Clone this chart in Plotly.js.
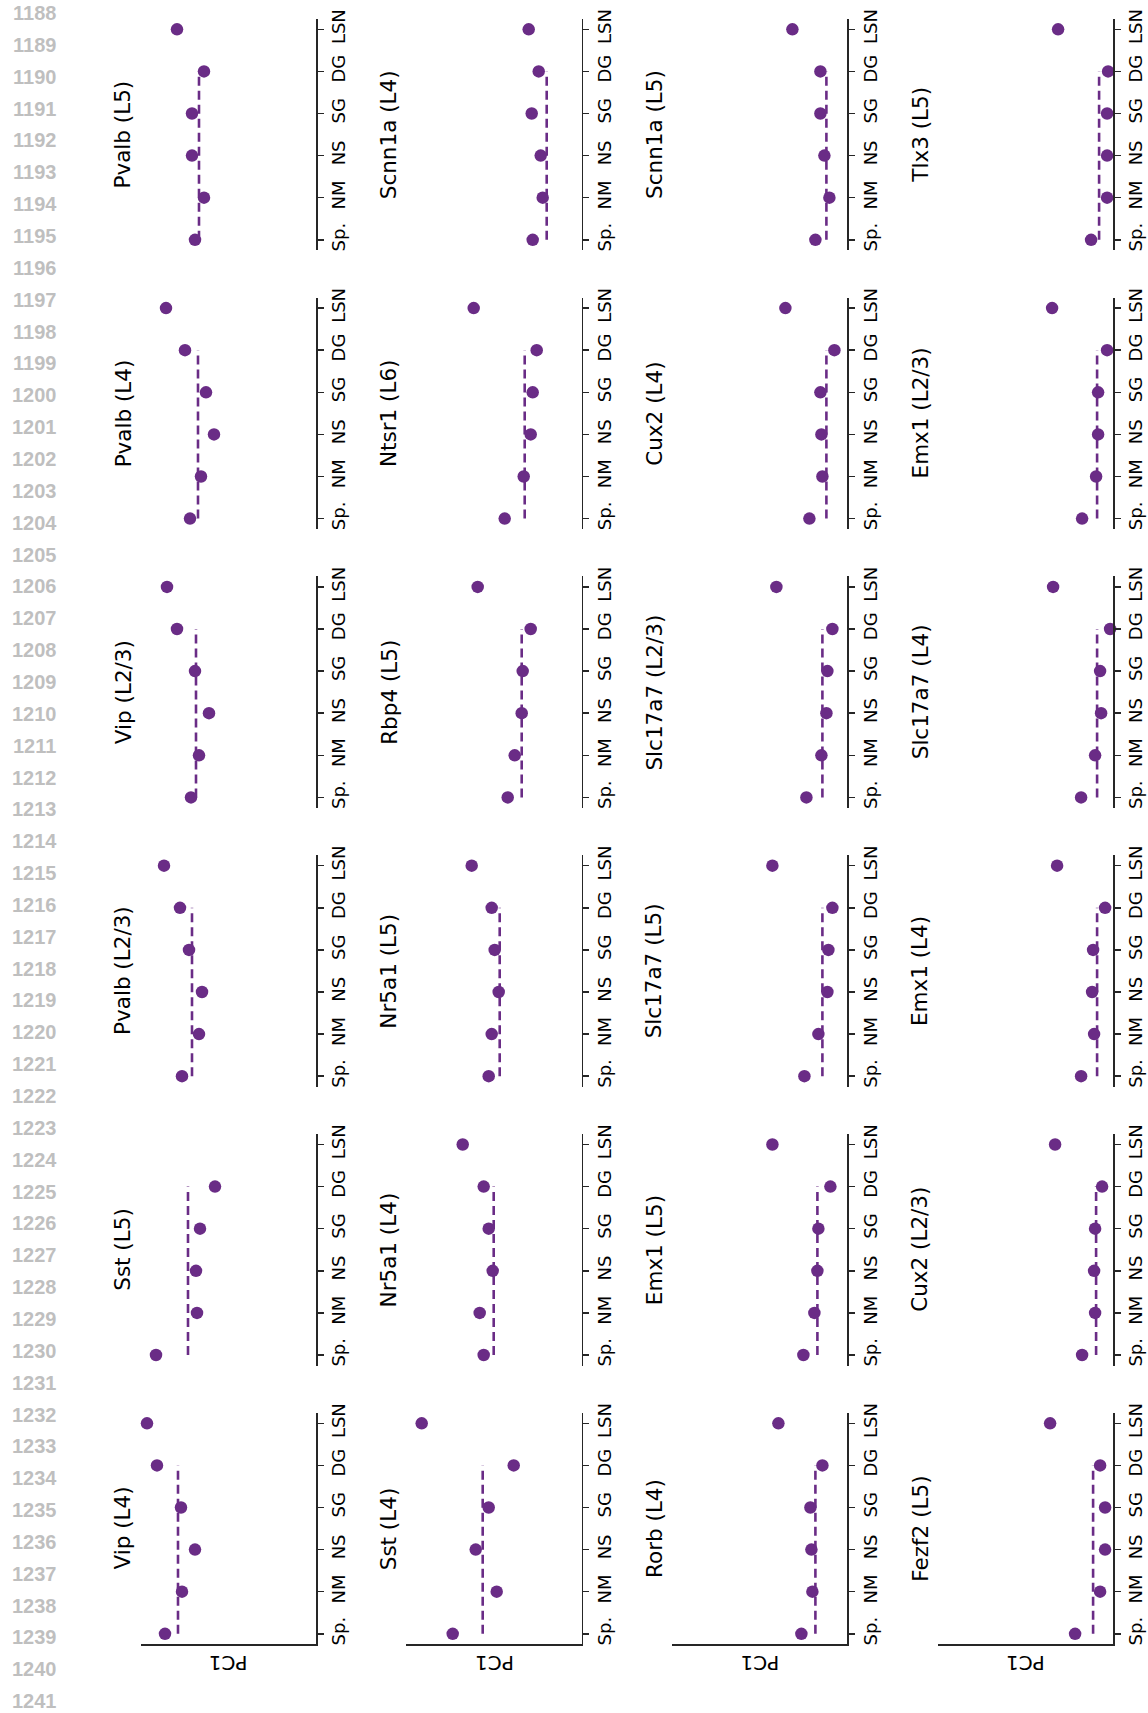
<!DOCTYPE html>
<html><head><meta charset="utf-8">
<script src="https://cdn.plot.ly/plotly-3.0.1.min.js"></script>
<style>html,body{margin:0;padding:0;background:#fff}</style>
</head><body><div id="chart" style="width:1148px;height:1713px"></div>
<script>
// Categories along each panel's axis (bottom to top)
const categories = ['Sp.', 'NM', 'NS', 'SG', 'DG', 'LSN'];

// Panel titles, row by row (top to bottom), left to right
const panelTitles = [
  'Pvalb (L5)', 'Scnn1a (L4)', 'Scnn1a (L5)', 'Tlx3 (L5)',
  'Pvalb (L4)', 'Ntsr1 (L6)', 'Cux2 (L4)', 'Emx1 (L2/3)',
  'Vip (L2/3)', 'Rbp4 (L5)', 'Slc17a7 (L2/3)', 'Slc17a7 (L4)',
  'Pvalb (L2/3)', 'Nr5a1 (L5)', 'Slc17a7 (L5)', 'Emx1 (L4)',
  'Sst (L5)', 'Nr5a1 (L4)', 'Emx1 (L5)', 'Cux2 (L2/3)',
  'Vip (L4)', 'Sst (L4)', 'Rorb (L4)', 'Fezf2 (L5)'
];

// PC1 value per category, one entry per panel (same order as panelTitles)
const pcSp  = [12.1, 4.9, 3.2, 2.2, 12.6, 7.7, 3.8, 3.1, 12.5, 7.4, 4.1, 3.2, 13.4, 9.3, 4.3, 3.2, 16.0, 9.8, 4.4, 3.1, 15.1, 12.9, 4.6, 3.8];
const pcNM  = [11.2, 3.9, 1.8, 0.6, 11.5, 5.8, 2.5, 1.7, 11.7, 6.7, 2.6, 1.8, 11.7, 9.0, 2.9, 1.9, 11.9, 10.2, 3.3, 1.8, 13.4, 8.5, 3.5, 1.3];
const pcNS  = [12.4, 4.1, 2.3, 0.6, 10.2, 5.1, 2.6, 1.5, 10.7, 6.0, 2.1, 1.2, 11.4, 8.3, 2.0, 2.1, 12.0, 8.9, 3.0, 1.9, 12.1, 10.6, 3.6, 0.8];
const pcSG  = [12.4, 5.0, 2.7, 0.6, 11.0, 4.9, 2.7, 1.5, 12.1, 5.9, 2.0, 1.3, 12.7, 8.7, 1.9, 2.0, 11.6, 9.3, 2.9, 1.8, 13.5, 9.3, 3.7, 0.8];
const pcDG  = [11.2, 4.3, 2.7, 0.5, 13.1, 4.5, 1.3, 0.6, 13.9, 5.1, 1.5, 0.3, 13.6, 9.0, 1.5, 0.8, 10.1, 9.8, 1.7, 1.1, 15.9, 6.8, 2.5, 1.3];
const pcLSN = [13.9, 5.3, 5.5, 5.5, 15.0, 10.8, 6.2, 6.1, 14.9, 10.4, 7.1, 6.0, 15.2, 11.0, 7.5, 5.6, null, 11.9, 7.5, 5.8, 16.9, 16.0, 6.9, 6.3];

// Dashed reference level (drawn from Sp. to DG)
const baseline = [11.7, 3.5, 2.1, 1.4, 11.8, 5.7, 2.1, 1.6, 12.0, 6.0, 2.5, 1.6, 12.4, 8.2, 2.5, 1.6, 12.8, 8.8, 3.0, 1.7, 13.8, 9.9, 3.2, 2.0];

// Manuscript line numbers in the left margin
const lineNumbers = [1188,1189,1190,1191,1192,1193,1194,1195,1196,1197,1198,1199,1200,1201,1202,1203,1204,1205,1206,1207,1208,1209,1210,1211,1212,1213,1214,1215,1216,1217,1218,1219,1220,1221,1222,1223,1224,1225,1226,1227,1228,1229,1230,1231,1232,1233,1234,1235,1236,1237,1238,1239,1240,1241];

const W = 1148, H = 1713;
const purple = '#6a2c86';
const axisColor = '#262626';
const FONT = 'DejaVu Sans, sans-serif';
const nCols = 4, nRows = 6;
const colAxisX = c => 316 + c * 265.7;
const rowTop = r => 29.3 + r * 278.8;   // LSN tick position
const catStep = 42.1;
const plotW = 175.5;
const px = x => x / W;
const py = y => 1 - y / H;

const data = [];
const layout = {
  width: W, height: H,
  margin: {l: 0, r: 0, t: 0, b: 0},
  paper_bgcolor: '#fff', plot_bgcolor: 'rgba(0,0,0,0)',
  showlegend: false,
  annotations: []
};

panelTitles.forEach((title, i) => {
  const r = Math.floor(i / nCols), c = i % nCols;
  const k = i + 1;
  const xa = k === 1 ? 'xaxis' : 'xaxis' + k;
  const ya = k === 1 ? 'yaxis' : 'yaxis' + k;
  const xr = k === 1 ? 'x' : 'x' + k;
  const yr = k === 1 ? 'y' : 'y' + k;
  const ax = colAxisX(c);
  const top = rowTop(r) - 0.25 * catStep;
  const bot = rowTop(r) + 5.25 * catStep;

  layout[xa] = {
    domain: [px(ax - plotW), px(ax)],
    anchor: yr,
    range: [17.55, 0],
    showgrid: false, zeroline: false,
    showticklabels: false, ticks: '',
    showline: r === nRows - 1,
    linecolor: axisColor, linewidth: 1.5,
    fixedrange: true
  };
  layout[ya] = {
    domain: [py(bot), py(top)],
    anchor: xr,
    side: 'right',
    type: 'category',
    categoryorder: 'array',
    categoryarray: categories,
    range: [-0.25, 5.25],
    showgrid: false, zeroline: false,
    showline: true, linecolor: axisColor, linewidth: 1.5,
    ticks: 'outside', ticklen: 6, tickwidth: 1.5, tickcolor: axisColor,
    tickangle: -90,
    ticklabelstandoff: 0,
    tickfont: {family: FONT, size: 18, color: '#000'},
    fixedrange: true
  };

  data.push({
    type: 'scatter', mode: 'lines',
    x: [baseline[i], baseline[i]], y: [categories[0], categories[4]],
    xaxis: xr, yaxis: yr,
    line: {color: purple, width: 2.6, dash: '9px,5px'},
    hoverinfo: 'skip'
  });
  data.push({
    type: 'scatter', mode: 'markers',
    x: [pcSp[i], pcNM[i], pcNS[i], pcSG[i], pcDG[i], pcLSN[i]],
    y: categories,
    xaxis: xr, yaxis: yr,
    marker: {color: purple, size: 12.5},
    cliponaxis: false
  });

  layout.annotations.push({
    text: title, textangle: -90,
    xref: 'paper', yref: 'paper',
    x: px(ax - 193), y: py(rowTop(r) + 2.5 * catStep),
    xanchor: 'center', yanchor: 'middle', showarrow: false,
    font: {family: FONT, size: 21.5, color: '#000'}
  });
  if (r === nRows - 1) {
    layout.annotations.push({
      text: 'PC1', textangle: 180,
      xref: 'paper', yref: 'paper',
      x: px(ax - plotW / 2), y: py(1663),
      xanchor: 'center', yanchor: 'middle', showarrow: false,
      font: {family: FONT, size: 20, color: '#000'}
    });
  }
});

lineNumbers.forEach((n, j) => {
  layout.annotations.push({
    text: String(n),
    xref: 'paper', yref: 'paper',
    x: px(34.5), y: py(13.1 + j * 31.85),
    xanchor: 'center', yanchor: 'middle', showarrow: false,
    font: {family: 'Liberation Sans, Arial, sans-serif', size: 20, color: '#bfbfbf', weight: 700}
  });
});

Plotly.newPlot('chart', data, layout, {staticPlot: true, displayModeBar: false});
</script>
</body></html>
